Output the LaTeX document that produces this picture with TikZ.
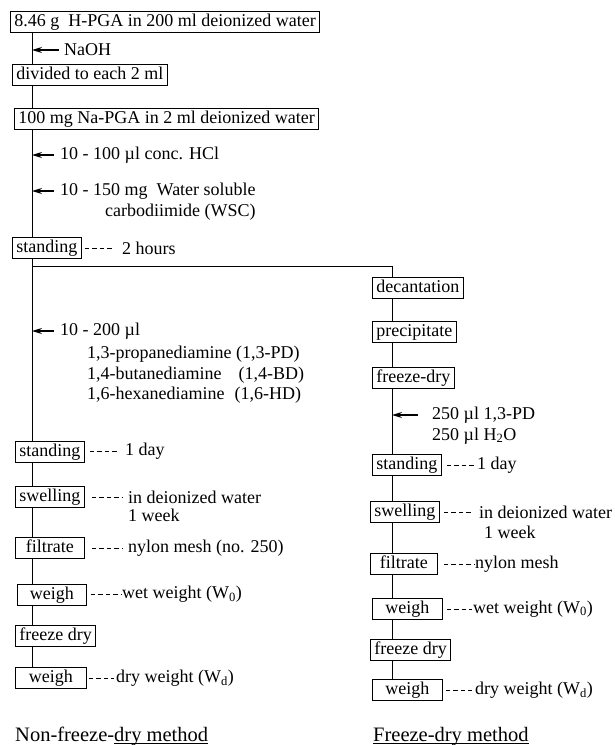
\documentclass[tikz,border=0pt]{standalone}
\usepackage{fontspec}
\setmainfont{Liberation Serif}
\usepackage{tikz}
\usetikzlibrary{arrows.meta,calc,positioning}
\newcommand{\methodline}[1]{\setbox0\hbox{#1}\rlap{\rule[-2.5pt]{\wd0}{0.8pt}}\box0}

\begin{document}
\begin{tikzpicture}[x=1pt,y=-1pt,font=\fontsize{18}{20.5}\selectfont,>={Stealth[length=10pt,width=6pt]},
  pbox/.style={draw,line width=0.8pt,anchor=west,inner xsep=4pt,inner ysep=2.5pt,text height=12.5pt,text depth=3.5pt},
  note/.style={anchor=west,inner sep=0pt,align=left},
  lead/.style={line width=0.9pt,dash pattern=on 4.5pt off 3pt},
  flow/.style={line width=1pt},
  feed/.style={->,line width=1.2pt}]
  \useasboundingbox (0,0) rectangle (614,745);
  \coordinate (ltrunk) at (32,0);
  \coordinate (rtrunk) at (392,0);
  \coordinate (split) at (32,266);
  % common steps
  \node[pbox] (hpga) at (10,21.5) {8.46 g\enspace H-PGA in 200 ml deionized water};
  \node[note] (naoh) at (64,50) {NaOH};
  \node[pbox] (divide) at (12,75) {divided to each 2 ml};
  \node[pbox] (napga) at (14,118.5) {100 mg Na-PGA in 2 ml deionized water};
  \node[note] (hcl) at (60,155) {10 - 100 µl conc. HCl};
  \node[note] (wsc) at (60,191) {10 - 150 mg\enspace Water soluble};
  \node[note] (wscb) at (105,212) {carbodiimide (WSC)};
  \node[pbox] (standA) at (12,248) {standing};
  \node[note] (twoh) at (122,248) {2 hours};
  % non-freeze-dry branch
  \node[note] (amine) at (60,331) {10 - 200 µl};
  \node[note] (amlist) at (87,375) {1,3-propanediamine (1,3-PD)\\ 1,4-butanediamine\hspace{17pt}(1,4-BD)\\ 1,6-hexanediamine\hspace{10pt}(1,6-HD)};
  \node[pbox,minimum width=69pt] (standB) at (15,451.5) {standing};
  \node[note] (onedayB) at (125,451.5) {1 day};
  \node[pbox,minimum width=69pt] (swellA) at (15,497) {swelling};
  \node[note] (waterA) at (128,497) {in deionized water};
  \node[note] (weekA) at (128,515) {1 week};
  \node[pbox,minimum width=69pt] (filtA) at (15,548) {filtrate};
  \node[note] (meshA) at (128,548) {nylon mesh (no. 250)};
  \node[pbox,minimum width=69pt] (weighA) at (17,594.5) {weigh};
  \node[note] (wetA) at (122,594.5) {wet weight (W\textsubscript{0})};
  \node[pbox] (fdryA) at (15,636) {freeze dry};
  \node[pbox,minimum width=71pt] (weighB) at (15,678) {weigh};
  \node[note] (dryA) at (116,678) {dry weight (W\textsubscript{d})};
  \node[note,anchor=base west,font=\fontsize{20.5}{24}\selectfont] (titleA) at (15,741) {Non-freeze-\methodline{dry method}};
  % freeze-dry branch
  \node[pbox] (decant) at (372,287.5) {decantation};
  \node[pbox] (precip) at (372,331.5) {precipitate};
  \node[pbox] (fdryB) at (372,377.5) {freeze-dry};
  \node[note] (pd) at (432,415) {250 µl 1,3-PD};
  \node[note] (water) at (432,436) {250 µl H\textsubscript{2}O};
  \node[pbox,minimum width=65pt] (standC) at (372,465) {standing};
  \node[note] (onedayC) at (477,465) {1 day};
  \node[pbox,minimum width=65pt] (swellC) at (370,512) {swelling};
  \node[note] (waterC) at (479,512) {in deionized water};
  \node[note] (weekC) at (484,532) {1 week};
  \node[pbox,minimum width=67pt] (filtC) at (370,564) {filtrate};
  \node[note] (meshC) at (475,564) {nylon mesh};
  \node[pbox,minimum width=70pt] (weighC) at (372,609) {weigh};
  \node[note] (wetC) at (473,609) {wet weight (W\textsubscript{0})};
  \node[pbox] (fdryC) at (370,649.5) {freeze dry};
  \node[pbox,minimum width=70pt] (weighD) at (372,690) {weigh};
  \node[note] (dryC) at (475,690) {dry weight (W\textsubscript{d})};
  \node[note,anchor=base west,font=\fontsize{20.5}{24}\selectfont] (titleC) at (373,741) {\methodline{Freeze-dry method}};
  % left trunk
  \draw[flow] (hpga.south -| ltrunk) -- (divide.north -| ltrunk);
  \draw[flow] (divide.south -| ltrunk) -- (napga.north -| ltrunk);
  \draw[flow] (napga.south -| ltrunk) -- (standA.north -| ltrunk);
  \draw[flow] (standA.south -| ltrunk) -- (standB.north -| ltrunk);
  \draw[flow] (standB.south -| ltrunk) -- (swellA.north -| ltrunk);
  \draw[flow] (swellA.south -| ltrunk) -- (filtA.north -| ltrunk);
  \draw[flow] (filtA.south -| ltrunk) -- (weighA.north -| ltrunk);
  \draw[flow] (weighA.south -| ltrunk) -- (fdryA.north -| ltrunk);
  \draw[flow] (fdryA.south -| ltrunk) -- (weighB.north -| ltrunk);
  % branch and right trunk
  \draw[flow] (split) -| (decant.north -| rtrunk);
  \draw[flow] (decant.south -| rtrunk) -- (precip.north -| rtrunk);
  \draw[flow] (precip.south -| rtrunk) -- (fdryB.north -| rtrunk);
  \draw[flow] (fdryB.south -| rtrunk) -- (standC.north -| rtrunk);
  \draw[flow] (standC.south -| rtrunk) -- (swellC.north -| rtrunk);
  \draw[flow] (swellC.south -| rtrunk) -- (filtC.north -| rtrunk);
  \draw[flow] (filtC.south -| rtrunk) -- (weighC.north -| rtrunk);
  \draw[flow] (weighC.south -| rtrunk) -- (fdryC.north -| rtrunk);
  \draw[flow] (fdryC.south -| rtrunk) -- (weighD.north -| rtrunk);
  % additions
  \draw[feed,shorten <=5pt] (naoh.west) -- (naoh.west -| ltrunk);
  \draw[feed,shorten <=6pt] (hcl.west) -- (hcl.west -| ltrunk);
  \draw[feed,shorten <=6pt] (wsc.west) -- (wsc.west -| ltrunk);
  \draw[feed,shorten <=6pt] (amine.west) -- (amine.west -| ltrunk);
  \draw[feed,shorten <=14pt] (pd.west) -- (pd.west -| rtrunk);
  % conditions
  \draw[lead,shorten <=3pt,shorten >=9pt] (standA.east) -- (twoh.west);
  \draw[lead,shorten <=5pt,shorten >=8pt] (standB.east) -- (onedayB.west);
  \draw[lead,shorten <=7pt,shorten >=6pt] (swellA.east) -- (waterA.west);
  \draw[lead,shorten <=7pt,shorten >=6pt] (filtA.east) -- (meshA.west);
  \draw[lead,shorten <=4pt,shorten >=1pt] (weighA.east) -- (wetA.west);
  \draw[lead,shorten <=2pt,shorten >=2pt] (weighB.east) -- (dryA.west);
  \draw[lead,shorten <=5pt,shorten >=1pt] (standC.east) -- (onedayC.west);
  \draw[lead,shorten <=4pt,shorten >=8pt] (swellC.east) -- (waterC.west);
  \draw[lead,shorten <=6pt,shorten >=1pt] (filtC.east) -- (meshC.west);
  \draw[lead,shorten <=4pt,shorten >=1pt] (weighC.east) -- (wetC.west);
  \draw[lead,shorten <=3pt,shorten >=3pt] (weighD.east) -- (dryC.west);
\end{tikzpicture}
\end{document}
